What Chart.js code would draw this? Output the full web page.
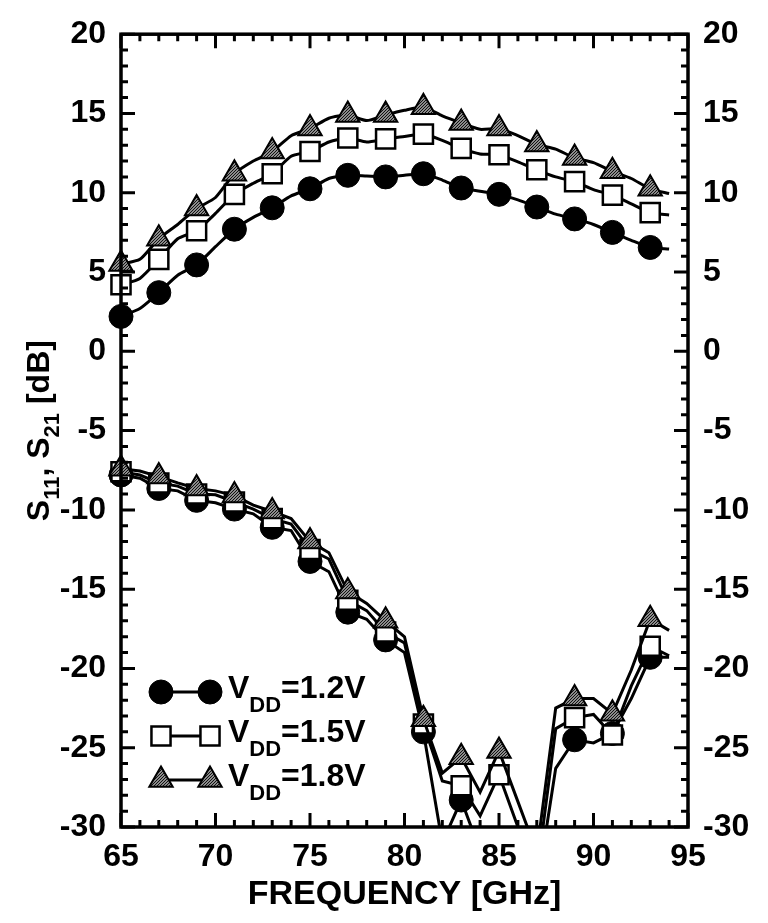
<!DOCTYPE html>
<html>
<head>
<meta charset="utf-8">
<script src="https://cdn.jsdelivr.net/npm/chart.js@4.4.1/dist/chart.umd.min.js"></script>
<style>
  html,body{margin:0;padding:0;background:#fff}
  #wrap{width:768px;height:923px;position:relative}
</style>
</head>
<body>
<div id="wrap"><canvas id="c"></canvas></div>
<script>
// frequency grid of the measured curves (GHz); markers sit on the odd ones
const FREQ = [65,66,67,68,69,70,71,72,73,74,75,76,77,78,79,80,81,82,83,84,85,86,87,88,89,90,91,92,93,94];

// S21 [dB]
const S21_12 = [2.2,2.7,3.7,4.8,5.45,6.6,7.7,8.45,9.05,9.8,10.25,10.9,11.1,11.05,11.0,11.1,11.2,10.8,10.3,10.1,9.9,9.55,9.1,8.65,8.35,8.0,7.5,7.0,6.55,6.45];
const S21_15 = [4.2,4.6,5.8,7.1,7.6,8.7,9.9,10.6,11.2,12.3,12.6,13.2,13.45,13.2,13.4,13.55,13.7,13.3,12.8,12.45,12.4,11.95,11.45,11.0,10.7,10.2,9.85,9.3,8.75,8.6];
const S21_18 = [5.5,5.8,7.1,8.0,9.0,9.7,11.2,12.0,12.6,13.6,14.05,14.7,14.9,14.55,14.9,15.2,15.4,14.85,14.4,14.0,14.05,13.6,13.05,12.75,12.2,11.9,11.35,10.9,10.25,9.95];

// S11 [dB]
const S11_12 = [-7.8,-8.0,-8.65,-8.8,-9.4,-9.55,-9.95,-10.25,-11.1,-11.3,-13.25,-13.9,-16.45,-16.9,-18.2,-19.0,-24.0,-31.0,-28.3,-31.5,-32.0,-33.0,-34.0,-26.3,-24.5,-24.7,-24.1,-21.9,-19.3,-19.3];
const S11_15 = [-7.6,-7.8,-8.3,-8.5,-9.0,-9.05,-9.5,-9.95,-10.55,-10.9,-12.5,-13.1,-15.7,-16.35,-17.7,-18.4,-23.5,-27.1,-27.4,-29.3,-26.7,-30.0,-33.0,-23.8,-23.1,-22.9,-24.2,-21.1,-18.6,-19.2];
const S11_18 = [-7.4,-7.55,-7.9,-8.3,-8.65,-8.8,-9.1,-9.7,-10.1,-10.55,-12.0,-12.7,-15.15,-15.9,-17.0,-18.0,-23.2,-26.6,-25.6,-27.8,-25.2,-28.4,-31.6,-22.5,-21.9,-21.9,-22.85,-20.1,-16.9,-17.6];

const X_TICKS = [65,70,75,80,85,90,95];
const Y_TICKS = [-30,-25,-20,-15,-10,-5,0,5,10,15,20];
const LABELS = ['1.2V','1.5V','1.8V'];

const FONT = "'Liberation Sans', Arial, Helvetica, sans-serif";
const canvas = document.getElementById('c');

function stipple(){
  const c = document.createElement('canvas'); c.width = 3; c.height = 3;
  const g = c.getContext('2d');
  g.fillStyle = '#8c8c8c'; g.fillRect(0,0,3,3);
  g.fillStyle = '#111'; g.fillRect(0,0,1,1); g.fillRect(2,1,1,1); g.fillRect(1,2,1,1);
  return canvas.getContext('2d').createPattern(c, 'repeat');
}
const STIP = stipple();

const STYLES = [
  {ps:'circle',   r:12, bw:1, fill:'#000', order:2},
  {ps:'rect',     r:13.5, bw:2.5, fill:'#fff', order:1},
  {ps:'triangle', r:13.5, bw:2, fill:STIP, order:0}
];

function series(label, ys, st, tension){
  const rad = (ctx) => (ctx.raw && ctx.raw.x % 2 === 1) ? st.r : 0;
  return {
    label, data: FREQ.map((f,i)=>({x:f, y:ys[i]})),
    borderColor:'#000', borderWidth:3, tension, fill:false, order:st.order,
    pointStyle:st.ps, pointRadius:rad, pointHoverRadius:rad,
    pointBackgroundColor:st.fill, pointBorderColor:'#000', pointBorderWidth:st.bw,
    clip:{left:16, right:16, top:0, bottom:0}
  };
}

const datasets = [
  series('S21 1.2V', S21_12, STYLES[0], 0.2),
  series('S21 1.5V', S21_15, STYLES[1], 0.2),
  series('S21 1.8V', S21_18, STYLES[2], 0.2),
  series('S11 1.2V', S11_12, STYLES[0], 0),
  series('S11 1.5V', S11_15, STYLES[1], 0),
  series('S11 1.8V', S11_18, STYLES[2], 0)
];

const tickFont = {family:FONT, size:32, weight:'bold'};
const noGrid = {display:false, drawTicks:false};

function drawMarker(ctx, st, x, y){
  ctx.beginPath();
  if (st.ps === 'circle') ctx.arc(x, y, st.r, 0, Math.PI*2);
  else if (st.ps === 'rect'){ const s = st.r*Math.SQRT1_2; ctx.rect(x-s, y-s, 2*s, 2*s); }
  else {
    let a = 0;
    ctx.moveTo(x + Math.sin(a)*st.r, y - Math.cos(a)*st.r);
    a += 2*Math.PI/3; ctx.lineTo(x + Math.sin(a)*st.r, y - Math.cos(a)*st.r);
    a += 2*Math.PI/3; ctx.lineTo(x + Math.sin(a)*st.r, y - Math.cos(a)*st.r);
    ctx.closePath();
  }
  ctx.fillStyle = st.fill; ctx.fill();
  ctx.lineWidth = st.bw; ctx.strokeStyle = '#000'; ctx.stroke();
}

// text pieces with optional subscripts, returns total width
function rich(ctx, parts, x, y, big, small, drop, measureOnly){
  let w = 0;
  for (const p of parts){
    ctx.font = `bold ${p.sub ? small : big}px ${FONT}`;
    const pw = ctx.measureText(p.t).width;
    if (!measureOnly) ctx.fillText(p.t, x + w, y + (p.sub ? drop : 0));
    w += pw;
  }
  return w;
}

const frame = {
  id:'frame',
  afterDatasetsDraw(chart){
    const {ctx, chartArea:a, scales:{x, y}} = chart;
    ctx.save();
    ctx.strokeStyle = '#000'; ctx.lineWidth = 3;
    ctx.beginPath();
    for (let v = x.min; v <= x.max; v++){
      const px = x.getPixelForValue(v), L = v % 5 === 0 ? 14 : 7;
      ctx.moveTo(px, a.bottom); ctx.lineTo(px, a.bottom - L);
      ctx.moveTo(px, a.top); ctx.lineTo(px, a.top + L);
    }
    for (let v = y.min; v <= y.max; v++){
      const py = y.getPixelForValue(v), L = v % 5 === 0 ? 14 : 7;
      ctx.moveTo(a.left, py); ctx.lineTo(a.left + L, py);
      ctx.moveTo(a.right, py); ctx.lineTo(a.right - L, py);
    }
    ctx.stroke();
    ctx.lineWidth = 3.5;
    ctx.strokeRect(a.left, a.top, a.right - a.left, a.bottom - a.top);
    ctx.restore();
  },
  afterDraw(chart){
    const {ctx, chartArea:a} = chart;
    ctx.save();
    ctx.fillStyle = '#000'; ctx.textBaseline = 'alphabetic';

    // x title
    ctx.font = `bold 34px ${FONT}`; ctx.textAlign = 'center';
    ctx.fillText('FREQUENCY [GHz]', (a.left + a.right)/2, 904);

    // y title, rotated, with subscripts
    ctx.textAlign = 'left';
    const yParts = [{t:'S'},{t:'11',sub:true},{t:', S'},{t:'21',sub:true},{t:' [dB]'}];
    ctx.translate(49, (a.top + a.bottom)/2);
    ctx.rotate(-Math.PI/2);
    const w = rich(ctx, yParts, 0, 0, 32, 22, 10, true);
    rich(ctx, yParts, -w/2, 0, 32, 22, 10, false);
    ctx.setTransform(1,0,0,1,0,0);

    // legend
    const rows = [692, 736, 780];
    rows.forEach((ry, i) => {
      const st = STYLES[i];
      ctx.beginPath(); ctx.lineWidth = 3; ctx.strokeStyle = '#000';
      ctx.moveTo(161, ry); ctx.lineTo(210, ry); ctx.stroke();
      drawMarker(ctx, st, 161, ry);
      drawMarker(ctx, st, 210, ry);
      ctx.fillStyle = '#000';
      rich(ctx, [{t:'V'},{t:'DD',sub:true},{t:'=' + LABELS[i]}], 228, ry + 6, 32, 22, 14, false);
    });
    ctx.restore();
  }
};

new Chart(canvas, {
  type:'line',
  data:{datasets},
  plugins:[frame],
  options:{
    responsive:true, maintainAspectRatio:false, animation:false, events:[],
    layout:{padding:{top:20, left:0, right:0, bottom:0}},
    plugins:{legend:{display:false}, tooltip:{enabled:false}},
    scales:{
      x:{type:'linear', min:65, max:95,
         afterBuildTicks:s => { s.ticks = X_TICKS.map(v=>({value:v})); },
         afterFit:s => { s.height = 96; },
         ticks:{font:tickFont, color:'#000', padding:11, maxRotation:0},
         grid:noGrid, border:{display:false}},
      y:{type:'linear', position:'left', min:-30, max:20,
         afterBuildTicks:s => { s.ticks = Y_TICKS.map(v=>({value:v})); },
         afterFit:s => { s.width = 121; },
         ticks:{font:tickFont, color:'#000', padding:15},
         grid:noGrid, border:{display:false}},
      y2:{type:'linear', position:'right', min:-30, max:20,
         afterBuildTicks:s => { s.ticks = Y_TICKS.map(v=>({value:v})); },
         afterFit:s => { s.width = 80; },
         ticks:{font:tickFont, color:'#000', padding:15},
         grid:noGrid, border:{display:false}}
    }
  }
});
</script>
</body>
</html>
